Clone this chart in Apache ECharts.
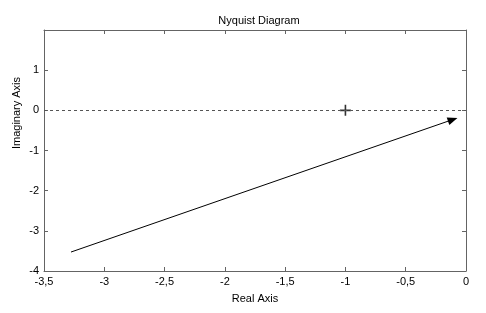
<!DOCTYPE html>
<html><head><meta charset="utf-8">
<script src="https://cdn.jsdelivr.net/npm/echarts@6/dist/echarts.min.js"></script>
<style>html,body{margin:0;padding:0;background:#fff}#c{width:486px;height:313px}</style>
</head><body><div id="c"></div>
<script>
var xTicks = [-3.5, -3, -2.5, -2, -1.5, -1, -0.5, 0];
var yTicks = [-4, -3, -2, -1, 0, 1, 2];
var curveX = [-3.276, -0.11];
var curveY = [-3.528, -0.23];
var criticalPoint = [-1, 0];

var curve = curveX.map(function (x, i) {
  var item = { value: [x, curveY[i]] };
  if (i === curveX.length - 1) {
    item.symbol = 'triangle'; item.symbolSize = [8, 10]; item.symbolRotate = -70.8;
  } else {
    item.symbol = 'none';
  }
  return item;
});

var fmt = function (v) { return String(v).replace('.', ','); };
var labelStyle = { color: '#000', fontFamily: 'Liberation Sans, Arial, sans-serif', fontSize: 11 };
var axisLine = { show: true, onZero: false, lineStyle: { color: '#646464', width: 1 } };
var tick = { show: true, inside: true, length: 4, lineStyle: { color: '#646464' } };

var chart = echarts.init(document.getElementById('c'));
chart.setOption({
  animation: false,
  title: { text: 'Nyquist Diagram', left: 254, top: 10, textAlign: 'center',
    textStyle: { fontSize: 11, fontWeight: 'normal', color: '#000', fontFamily: 'Liberation Sans, Arial, sans-serif' } },
  grid: { left: 44, right: 20, top: 30, bottom: 42 },
  xAxis: [
    { type: 'value', min: xTicks[0], max: xTicks[xTicks.length - 1], interval: 0.5, position: 'bottom',
      axisLine: axisLine, axisTick: tick, splitLine: { show: false },
      axisLabel: Object.assign({ formatter: fmt, margin: 5 }, labelStyle),
      name: 'Real Axis', nameLocation: 'middle', nameGap: 22, nameTextStyle: labelStyle },
    { type: 'value', min: xTicks[0], max: xTicks[xTicks.length - 1], interval: 0.5, position: 'top',
      axisLine: axisLine, axisTick: tick, splitLine: { show: false }, axisLabel: { show: false } }
  ],
  yAxis: [
    { type: 'value', min: yTicks[0], max: yTicks[yTicks.length - 1], interval: 1, position: 'left',
      axisLine: axisLine, axisTick: tick, splitLine: { show: false },
      axisLabel: Object.assign({ formatter: fmt, margin: 5, showMaxLabel: false }, labelStyle) },
    { type: 'value', min: yTicks[0], max: yTicks[yTicks.length - 1], interval: 1, position: 'right',
      axisLine: axisLine, axisTick: tick, splitLine: { show: false }, axisLabel: { show: false } }
  ],
  graphic: [{ type: 'text', x: 17, y: 113, rotation: Math.PI / 2,
    style: { text: 'Imaginary Axis', fill: '#000', font: '11px Liberation Sans, Arial, sans-serif', align: 'center', verticalAlign: 'middle' } }],
  series: [
    { type: 'line', data: curve, lineStyle: { color: '#000', width: 1 },
      itemStyle: { color: '#000' }, showSymbol: true, silent: true,
      markLine: { silent: true, symbol: 'none', label: { show: false },
        lineStyle: { color: '#555', type: [3, 3], width: 1 }, data: [{ yAxis: 0 }] } },
    { type: 'scatter', data: [criticalPoint], symbol: 'path://M5 0 L5 10 M0 5 L10 5', symbolSize: 11,
      itemStyle: { color: 'none', borderColor: '#000', borderWidth: 1.6 } }
  ]
});
</script></body></html>
